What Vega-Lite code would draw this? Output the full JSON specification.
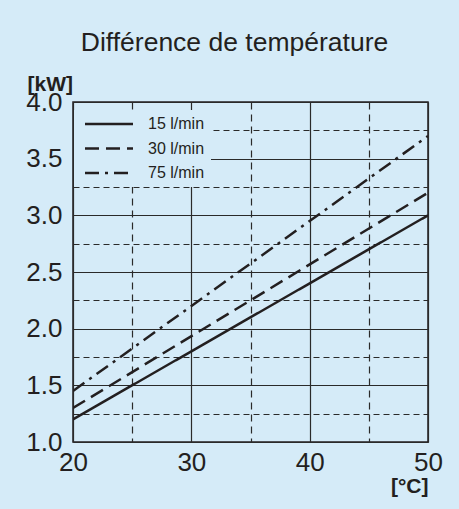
{
  "$schema": "https://vega.github.io/schema/vega-lite/v6.json",
  "autosize": {"type": "none"},
  "width": 355,
  "height": 340,
  "padding": {"left": 73, "top": 102, "right": 31, "bottom": 67},
  "background": "#d5ebf8",
  "title": {
    "text": "Différence de température",
    "fontSize": 26.5,
    "font": "Liberation Sans",
    "fontWeight": "normal",
    "color": "#231f20",
    "anchor": "middle",
    "dx": -16,
    "offset": 17
  },
  "config": {
    "view": {"stroke": "#231f20", "strokeWidth": 1.5, "fill": "#d5ebf8"},
    "font": "Liberation Sans"
  },
  "data": {
    "values": [
      {"t": 20, "p": 1.2, "s": "15 l/min"},
      {"t": 50, "p": 3.0, "s": "15 l/min"},
      {"t": 20, "p": 1.3, "s": "30 l/min"},
      {"t": 50, "p": 3.2, "s": "30 l/min"},
      {"t": 20, "p": 1.45, "s": "75 l/min"},
      {"t": 50, "p": 3.7, "s": "75 l/min"}
    ]
  },
  "mark": {"type": "line", "color": "#231f20", "strokeWidth": 2.5, "clip": true},
  "encoding": {
    "x": {
      "field": "t",
      "type": "quantitative",
      "scale": {"domain": [20, 50], "nice": false, "zero": false},
      "axis": {
        "values": [20, 25, 30, 35, 40, 45, 50],
        "labelExpr": "datum.value % 10 === 0 ? datum.label : ''",
        "ticks": false,
        "domain": false,
        "grid": true,
        "gridColor": "#2a2a2a",
        "gridOpacity": 1,
        "gridWidth": 1.2,
        "gridDash": {"condition": {"test": "datum.value % 10 !== 0", "value": [7, 5]}, "value": []},
        "labelFontSize": 26,
        "labelColor": "#231f20",
        "labelPadding": 7,
        "labelFlush": false,
        "title": "[°C]",
        "titleFontSize": 21,
        "titleFontWeight": "bold",
        "titleColor": "#231f20",
        "titleAnchor": "end",
        "titleAlign": "right",
        "titleBaseline": "alphabetic",
        "titleX": 355,
        "titleY": 50
      }
    },
    "y": {
      "field": "p",
      "type": "quantitative",
      "scale": {"domain": [1, 4], "nice": false, "zero": false},
      "axis": {
        "values": [1, 1.25, 1.5, 1.75, 2, 2.25, 2.5, 2.75, 3, 3.25, 3.5, 3.75, 4],
        "format": ".1f",
        "labelExpr": "(datum.value * 4) % 2 === 0 ? datum.label : ''",
        "ticks": false,
        "domain": false,
        "grid": true,
        "gridColor": "#2a2a2a",
        "gridOpacity": 1,
        "gridWidth": 1.2,
        "gridDash": {"condition": {"test": "(datum.value * 4) % 2 === 1", "value": [6, 4]}, "value": []},
        "labelFontSize": 26,
        "labelColor": "#231f20",
        "labelPadding": 11,
        "labelFlush": false,
        "title": "[kW]",
        "titleAngle": 0,
        "titleFontSize": 21,
        "titleFontWeight": "bold",
        "titleColor": "#231f20",
        "titleAlign": "left",
        "titleBaseline": "alphabetic",
        "titleX": -46,
        "titleY": -12
      }
    },
    "detail": {"field": "s"},
    "strokeDash": {
      "field": "s",
      "type": "nominal",
      "scale": {"domain": ["15 l/min", "30 l/min", "75 l/min"], "range": [[1, 0], [14, 7], [14, 6, 3, 6]]},
      "legend": {
        "title": null,
        "orient": "none",
        "legendX": 1,
        "legendY": 8,
        "fillColor": "#d5ebf8",
        "padding": 6,
        "symbolType": "M0,0H48",
        "symbolSize": 4,
        "symbolOffset": -3,
        "symbolStrokeWidth": 2.5,
        "symbolStrokeColor": "#231f20",
        "labelFontSize": 16,
        "labelColor": "#231f20",
        "labelOffset": 55,
        "rowPadding": 8.5
      }
    }
  }
}
